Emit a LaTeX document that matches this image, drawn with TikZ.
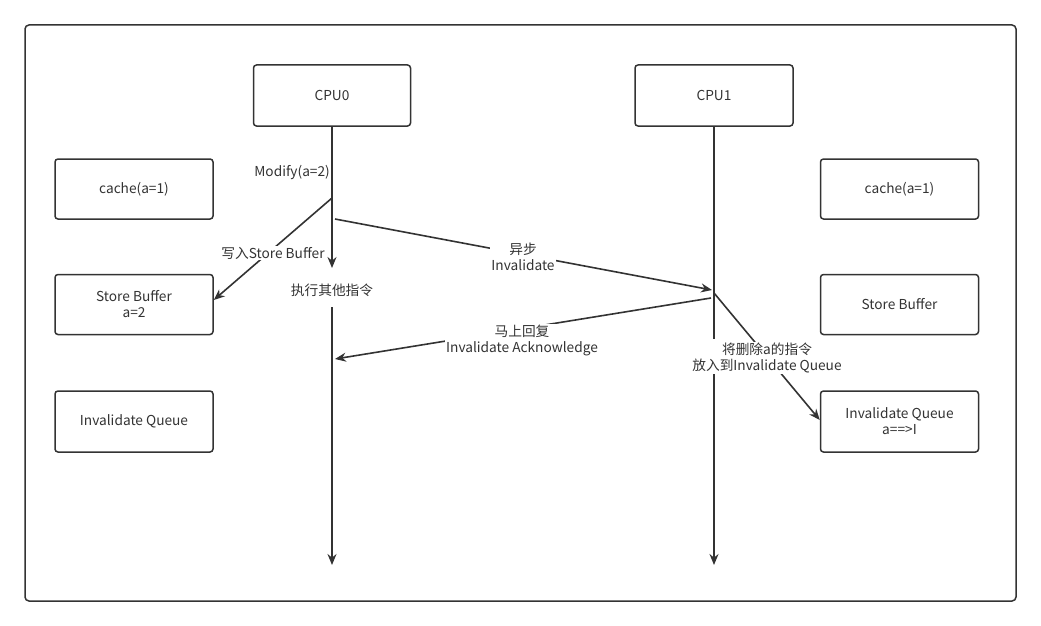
\documentclass[tikz,border=0pt]{standalone}
\usepackage{fontspec}
\setmainfont{Noto Sans CJK SC}
\usetikzlibrary{arrows.meta}
\definecolor{ln}{HTML}{333333}
\definecolor{tx}{HTML}{333333}
\tikzset{
  box/.style={draw=ln, line width=1.5pt, rounded corners=3pt, minimum width=158pt, minimum height=60pt, align=center, inner sep=0pt, text=tx, font=\fontsize{13.7}{16}\selectfont},
  lbl/.style={align=center, text=tx, font=\fontsize{13.7}{16}\selectfont, inner sep=1pt},
  wlbl/.style={lbl, fill=white},
  conn/.style={draw=ln, line width=1.6pt},
  arr/.style={conn, -{Stealth[length=11pt,width=9pt]}},
}
\begin{document}
\begin{tikzpicture}[x=1pt,y=-1pt]
\useasboundingbox (0,0) rectangle (1041,626);
\node[draw=ln, line width=1.5pt, rounded corners=4pt, minimum width=991pt, minimum height=576pt, inner sep=0pt] (frame) at (520.5,313) {};
% CPU boxes
\node[box, minimum width=157pt, minimum height=61pt] (cpu0) at (332,95.5) {CPU0};
\node[box, minimum width=158pt, minimum height=61pt] (cpu1) at (714,95.5) {CPU1};
% left boxes
\node[box] (lcache) at (134,189) {cache(a=1)};
\node[box] (lsb) at (134,304.5) {Store Buffer\\a=2};
\node[box, minimum height=61pt] (liq) at (134,421.5) {Invalidate Queue};
% right boxes
\node[box] (rcache) at (899.5,189) {cache(a=1)};
\node[box] (rsb) at (899.5,304.5) {Store Buffer};
\node[box, minimum height=61pt] (riq) at (899.5,421.5) {Invalidate Queue\\a==>I};
% lifeline coordinates
\coordinate (c0a) at (332,268);
\coordinate (c0b) at (332,307);
\coordinate (c0end) at (332,565);
\coordinate (c1a) at (714,339);
\coordinate (c1b) at (714,373);
\coordinate (c1end) at (714,565);
\coordinate (c0w) at (332,198);
\coordinate (c0i) at (335,219);
\coordinate (c1i) at (712,290);
\coordinate (c1ack) at (711,298);
\coordinate (c0ack) at (335,359);
\coordinate (c1q) at (714,293);
% CPU0 lifeline
\draw[arr] (cpu0.south) -- (c0a);
\node[lbl] (other) at (332,290) {执行其他指令};
\draw[arr] (c0b) -- (c0end);
\node[lbl, anchor=east] (modify) at (331,172) {Modify(a=2)};
% CPU1 lifeline
\draw[conn] (cpu1.south) -- (c1a);
\draw[arr] (c1b) -- (c1end);
% messages
\draw[arr] (c0w) -- (lsb.east |- 0,300) coordinate (sbhit);
\node[wlbl] (wsb) at (273,253) {写入Store Buffer};
\draw[arr] (c0i) -- (c1i);
\node[wlbl] (async) at (523,257) {异步\\Invalidate};
\draw[arr] (c1ack) -- (c0ack);
\node[wlbl] (ack) at (522,340) {马上回复\\Invalidate Acknowledge};
\draw[arr] (c1q) -- (riq.west |- 0,420);
\node[wlbl] (put) at (767,358) {将删除a的指令\\放入到Invalidate Queue};
\end{tikzpicture}
\end{document}
